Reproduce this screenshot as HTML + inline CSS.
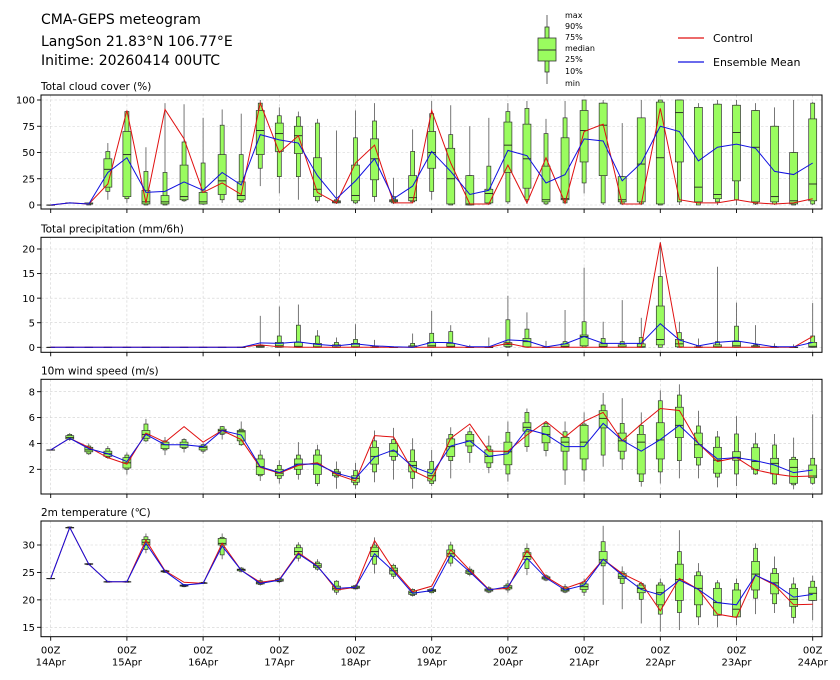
<!DOCTYPE html>
<html><head><meta charset="utf-8"><style>
html,body{margin:0;padding:0;background:#fff;}
svg{display:block;font-family:"DejaVu Sans","Liberation Sans",sans-serif;}
</style></head><body>
<svg id="chart" width="840" height="680" viewBox="0 0 840 680" xmlns="http://www.w3.org/2000/svg">
<text x="41" y="24" font-size="14">CMA-GEPS meteogram</text>
<text x="41" y="46" font-size="14">LangSon 21.83°N 106.77°E</text>
<text x="41" y="65" font-size="14">Initime: 20260414 00UTC</text>
<g>
<line x1="547" y1="15" x2="547" y2="84" stroke="#555" stroke-width="0.9"/>
<rect x="545" y="27" width="4" height="45" fill="#9afc5f" stroke="#333" stroke-width="0.8"/>
<rect x="538" y="38" width="18" height="23" fill="#9afc5f" stroke="#333" stroke-width="0.8"/>
<line x1="538" y1="50" x2="556" y2="50" stroke="#333" stroke-width="0.9"/>
<text x="565" y="18" font-size="8">max</text>
<text x="565" y="29" font-size="8">90%</text>
<text x="565" y="40" font-size="8">75%</text>
<text x="565" y="51" font-size="8">median</text>
<text x="565" y="62" font-size="8">25%</text>
<text x="565" y="74" font-size="8">10%</text>
<text x="565" y="86" font-size="8">min</text>
</g>
<g>
<line x1="678" y1="38" x2="704" y2="38" stroke="#e01010" stroke-width="1.2"/>
<text x="713" y="42" font-size="11">Control</text>
</g>
<g>
<line x1="678" y1="62" x2="704" y2="62" stroke="#1010e0" stroke-width="1.2"/>
<text x="713" y="66" font-size="11">Ensemble Mean</text>
</g>
</svg>
<script>
const cloudCtrl=[0,2,1,20,90,2,91,63,12,21,10,97,50,66,12,2,40,57,2,2,90,40,1,1,38,2,45,2,70,77,1,1,92,5,2,2,5,2,1,2,6];
const cloudMean=[0,2,1,31,45,12,13,22,14,31,19,67,62,59,28,6,23,44,6,18,51,32,10,14,52,47,21,29,63,61,23,40,75,70,42,55,58,54,32,29,40];
const cloudBox=[[0,0,0,0,0,0,0],[2,2,2,2,2,2,2],[0,0,1,1,2,2,2],[5,13,17,34,44,51,59],[2,6,8,48,70,89,90],[0,0,1,3,14,32,55],[0,0,1,3,9,31,97],[3,4,5,8,38,60,96],[0,1,1,3,12,40,83],[2,5,10,23,48,76,91],[2,3,5,9,22,48,87],[18,35,48,71,90,97,100],[11,27,51,68,78,85,93],[5,27,49,66,75,84,89],[2,4,8,15,45,78,82],[1,2,2,3,4,5,71],[1,2,4,9,38,64,90],[3,8,24,44,63,80,97],[1,2,3,4,5,8,26],[2,3,4,7,28,51,72],[5,13,35,50,70,87,99],[0,0,1,25,54,67,95],[0,0,0,1,28,28,75],[0,1,2,11,15,37,83],[1,3,31,57,79,89,97],[1,5,16,44,77,92,99],[0,1,3,5,37,68,82],[1,2,5,6,64,83,99],[11,21,41,71,90,100,100],[0,2,28,76,97,97,100],[0,1,3,5,27,27,78],[0,1,3,39,83,83,100],[0,0,1,45,98,100,100],[0,3,41,88,100,100,100],[0,0,3,17,93,93,97],[0,3,6,10,96,96,100],[0,5,23,69,95,95,100],[0,1,3,55,90,90,97],[0,1,3,8,75,75,93],[0,0,1,4,50,50,100],[0,1,4,20,82,97,98]];
const cloudTicks=[0,25,50,75,100];

const precipCtrl=[0,0,0,0,0,0,0,0,0,0,0,0.5,0.1,0,0,0,0,0,0,0,0,0,0,0,0.8,0,0,0,0,0,0,0,21.3,0,0,0,0,0,0,0,2.2];
const precipMean=[0,0,0,0,0,0,0,0,0,0,0,0.9,0.8,1.1,0.6,0.3,0.7,0.3,0.1,0,1.0,0.95,0.1,0.1,1.5,1.3,0.1,0.7,2.2,0.8,0.8,0.8,4.8,1.5,0.3,1.0,1.3,0.7,0.1,0.1,1.0];
const precipBox=[[0,0,0,0,0,0,0],[0,0,0,0,0,0,0],[0,0,0,0,0,0,0],[0,0,0,0,0,0,0],[0,0,0,0,0,0,0],[0,0,0,0,0,0,0],[0,0,0,0,0,0,0],[0,0,0,0,0,0,0],[0,0,0,0,0,0,0],[0,0,0,0,0,0,0],[0,0,0,0,0,0,0],[0,0,0,0.1,0.3,0.5,6.4],[0,0,0,0.3,1.0,2.3,8.3],[0,0,0,0.2,1.0,4.5,8.7],[0,0,0,0.1,0.8,2.3,3.5],[0,0,0,0,0.5,1.0,2.0],[0,0,0,0.1,0.8,1.6,4.7],[0,0,0,0,0.1,0.3,1.5],[0,0,0,0,0,0,0.2],[0,0,0,0.1,0.3,0.8,2.8],[0,0,0,0.3,1.0,2.85,7.4],[0,0,0,0.2,0.8,3.2,4.5],[0,0,0,0,0,0.1,0.5],[0,0,0,0,0,0.1,2.0],[0,0,0.2,0.6,0.95,5.6,10.5],[0,0,0.1,1.15,1.8,3.7,7.1],[0,0,0,0,0,0.1,1.3],[0,0,0,0.2,0.7,1.15,7.6],[0,0,0.3,2.2,2.5,5.2,16.2],[0,0,0,0.2,0.7,1.8,5.2],[0,0,0,0.1,0.5,1.15,9.6],[0,0,0,0.1,0.7,2.0,6.0],[0,0,0.5,1.6,8.4,14.4,21.4],[0,0,0.1,0.7,1.6,3.0,5.2],[0,0,0,0,0.1,0.3,1.8],[0,0,0,0.1,0.5,1.15,16.4],[0,0,0,0.3,1.15,4.3,9.1],[0,0,0,0.1,0.3,0.5,4.5],[0,0,0,0,0.1,0.2,0.8],[0,0,0,0,0,0.1,0.6],[0,0,0,0.2,1.0,2.3,9.0]];
const precipTicks=[0,5,10,15,20];

const windCtrl=[3.5,4.4,3.7,2.9,2.4,4.8,4.1,5.3,4.1,5.0,4.3,2.15,1.7,2.3,2.5,1.6,1.1,4.6,4.5,1.9,1.2,4.4,5.5,3.4,3.4,4.65,5.7,4.5,5.7,6.4,4.2,5.5,6.7,6.55,4.0,2.6,2.9,1.95,1.64,1.43,1.48];
const windMean=[3.5,4.4,3.6,3.2,2.6,4.7,3.9,3.9,3.75,5.0,4.65,2.2,1.75,2.4,2.4,1.7,1.3,2.95,3.5,2.2,1.65,3.8,4.2,3.0,3.2,5.1,4.7,3.75,3.75,5.55,4.25,3.4,4.3,5.4,4.0,2.8,2.9,2.67,2.33,1.74,1.95];
const windBox=[[3.5,3.5,3.5,3.5,3.5,3.5,3.5],[4.2,4.3,4.35,4.45,4.6,4.7,4.8],[3.1,3.2,3.35,3.5,3.7,3.8,4.0],[2.8,2.9,3.0,3.2,3.4,3.6,3.8],[1.6,2.0,2.1,2.5,2.9,3.1,3.3],[4.1,4.2,4.4,4.7,5.0,5.5,5.9],[3.1,3.5,3.6,3.9,4.1,4.2,4.5],[3.3,3.6,3.7,3.9,4.1,4.3,4.4],[3.2,3.4,3.5,3.7,3.8,3.9,4.0],[4.3,4.7,4.8,5.0,5.1,5.3,5.35],[3.8,3.9,4.2,4.9,5.0,5.1,5.7],[1.1,1.5,1.6,2.2,2.8,3.1,3.5],[0.9,1.3,1.5,1.7,2.0,2.3,2.7],[1.2,1.6,2.0,2.4,2.8,3.1,4.1],[0.7,0.9,1.6,2.4,3.1,3.5,3.9],[0.5,1.4,1.5,1.7,1.8,2.0,2.6],[0.5,0.8,1.0,1.3,1.5,1.9,2.5],[1.0,1.8,2.4,3.0,3.7,4.2,5.0],[1.2,2.7,3.0,3.4,4.0,4.3,5.2],[0.5,1.3,1.8,2.3,2.6,3.5,4.4],[0.7,0.9,1.1,1.5,2.0,2.6,3.5],[1.3,2.67,3.0,3.75,4.35,4.7,5.25],[2.5,3.3,3.8,4.2,4.7,4.9,5.25],[1.7,2.15,2.5,3.0,3.5,3.8,4.6],[1.05,1.64,2.35,3.35,4.1,4.86,5.7],[3.35,3.75,4.95,5.25,5.6,6.4,6.7],[3.0,3.45,4.05,4.7,5.3,5.55,5.7],[0.8,1.95,3.4,4.1,4.47,4.9,5.7],[1.05,1.95,2.8,4.1,5.4,5.5,6.4],[2.2,3.1,5.2,5.94,6.53,6.97,7.9],[1.95,2.8,3.4,4.2,4.8,5.55,7.5],[0.66,1.05,1.64,4.1,4.7,5.4,6.4],[0.9,1.8,2.8,4.27,5.6,7.3,8.1],[1.3,2.67,4.45,5.4,6.8,7.74,8.57],[1.3,2.33,2.9,3.9,4.8,5.35,6.53],[0.6,1.4,1.7,2.7,3.7,4.5,4.96],[0.7,1.64,2.7,2.93,3.36,4.73,6.1],[1.56,1.64,2.0,2.6,3.67,3.96,4.83],[0.8,0.87,1.64,2.46,2.85,3.88,4.73],[0.45,0.8,0.92,2.15,2.77,2.93,4.45],[0.8,0.92,1.35,1.48,2.33,2.85,6.25]];
const windTicks=[2,4,6,8];

const tempCtrl=[23.9,33.2,26.5,23.3,23.3,30.9,25.3,23.2,23.0,30.3,25.4,23.2,23.7,28.6,26.2,21.8,22.3,30.8,25.5,21.5,22.5,29.1,25.4,21.9,22.1,29.0,24.2,22.1,23.3,27.4,24.8,23.1,18.0,23.9,21.9,17.4,16.8,24.5,22.7,19.1,19.2];
const tempMean=[23.9,33.2,26.5,23.3,23.3,30.3,25.2,22.7,23.0,29.8,25.4,23.0,23.6,28.4,26.1,22.1,22.3,28.4,25.2,21.2,21.7,28.2,25.1,21.8,22.4,27.6,24.0,21.8,22.7,27.4,24.5,21.9,20.9,23.6,21.9,19.5,19.1,24.5,22.9,20.5,21.0];
const tempBox=[[23.9,23.9,23.9,23.9,23.9,23.9,23.9],[33.0,33.1,33.1,33.2,33.2,33.3,33.3],[26.4,26.4,26.5,26.5,26.6,26.6,26.7],[23.2,23.2,23.3,23.3,23.3,23.4,23.4],[23.2,23.2,23.3,23.3,23.3,23.4,23.4],[28.5,29.2,30.0,30.5,31.0,31.5,32.1],[24.9,25.0,25.1,25.2,25.3,25.4,25.5],[22.3,22.4,22.5,22.6,22.7,22.8,22.9],[22.9,23.0,23.0,23.1,23.1,23.2,23.2],[27.4,28.2,30.0,30.3,31.2,31.4,32.1],[25.0,25.2,25.3,25.5,25.6,25.8,26.0],[22.6,22.8,22.9,23.1,23.3,23.5,23.9],[23.0,23.3,23.4,23.6,23.8,23.9,24.1],[27.0,27.6,28.2,28.8,29.5,30.0,30.5],[25.3,25.6,25.9,26.2,26.6,26.9,27.4],[20.9,21.4,21.8,22.1,22.5,23.4,23.6],[21.9,22.0,22.1,22.3,22.5,22.6,22.8],[24.8,26.5,27.9,28.8,29.6,30.0,31.4],[23.8,24.3,24.7,25.3,25.8,26.3,26.6],[20.6,20.8,21.0,21.3,21.6,21.9,22.1],[21.2,21.3,21.5,21.7,21.9,22.0,22.2],[26.1,26.7,27.9,28.4,29.1,30.0,30.6],[24.3,24.6,24.8,25.1,25.4,25.6,26.1],[21.2,21.4,21.6,21.8,22.0,22.2,22.5],[21.3,21.8,22.0,22.3,22.6,22.9,23.6],[24.5,25.7,27.4,27.9,28.6,29.4,30.3],[23.4,23.6,23.8,24.0,24.2,24.4,24.7],[21.2,21.4,21.6,21.8,22.1,22.4,22.9],[20.7,21.4,21.9,22.4,22.9,23.3,23.9],[19.1,26.2,26.7,27.3,28.8,30.6,33.5],[18.3,23.0,23.9,24.2,24.8,25.1,26.1],[15.7,20.1,21.3,22.1,22.7,23.0,23.3],[14.2,17.4,19.1,21.3,22.7,23.1,23.9],[14.5,17.7,19.9,23.7,26.5,28.8,32.7],[15.4,16.9,19.1,22.1,24.4,25.1,26.7],[15.0,17.2,17.2,19.5,22.1,23.1,23.6],[15.4,16.9,16.9,18.3,21.8,23.0,23.9],[17.4,20.3,21.8,24.7,27.0,29.4,30.3],[17.6,19.3,21.1,23.1,24.8,25.7,27.9],[15.7,16.8,18.8,20.1,22.1,22.9,24.1],[16.3,19.9,19.9,21.2,22.3,23.4,24.4]];
const tempTicks=[15,20,25,30];

const dayLabels=["14Apr","15Apr","16Apr","17Apr","18Apr","19Apr","20Apr","21Apr","22Apr","23Apr","24Apr"];

const NS="http://www.w3.org/2000/svg";
const svg=document.getElementById('chart');
const X0=50.7, DX=19.05, XL=41, XR=822;
function sx(i){return X0+DX*i;}
function mk(tag,attrs,parent){const e=document.createElementNS(NS,tag);for(const k in attrs)e.setAttribute(k,attrs[k]);(parent||svg).appendChild(e);return e;}

const panels=[
 {key:'cloud',title:'Total cloud cover (%)',top:95,bottom:209,v0:0,y0:205,v1:100,y1:100,ticks:cloudTicks,ctrl:cloudCtrl,mean:cloudMean,box:cloudBox},
 {key:'precip',title:'Total precipitation (mm/6h)',top:237.3,bottom:352.3,v0:0,y0:347.3,v1:20,y1:249,ticks:precipTicks,ctrl:precipCtrl,mean:precipMean,box:precipBox},
 {key:'wind',title:'10m wind speed (m/s)',top:379.3,bottom:494,v0:2,y0:469.3,v1:8,y1:391.7,ticks:windTicks,ctrl:windCtrl,mean:windMean,box:windBox},
 {key:'temp',title:'2m temperature (\u2103)',top:521,bottom:636.7,v0:15,y0:627.3,v1:30,y1:545,ticks:tempTicks,ctrl:tempCtrl,mean:tempMean,box:tempBox}
];

panels.forEach((p,pi)=>{
 const sy=v=>p.y0+(v-p.v0)*(p.y1-p.y0)/(p.v1-p.v0);
 const g=mk('g',{});
 
 
 const t=mk('text',{x:41,y:p.top-5,'font-size':'10.5'},g);
 t.textContent=p.title;
 
 
 // grid
 for(let d=0;d<=10;d++){
  const x=X0+DX*4*d;
  const gl=mk('line',{x1:x,y1:p.top,x2:x,y2:p.bottom,stroke:'#d0d0d0','stroke-width':0.6,'stroke-dasharray':'2.5,2'},g);
  
  
  const tk=mk('line',{x1:x,y1:p.bottom,x2:x,y2:p.bottom+4,stroke:'#000','stroke-width':0.9},g);
  
  
 }
 p.ticks.forEach(v=>{
  const y=sy(v);
  const gl=mk('line',{x1:XL,y1:y,x2:XR,y2:y,stroke:'#d0d0d0','stroke-width':0.6,'stroke-dasharray':'2.5,2'},g);
  
  
  const tk=mk('line',{x1:XL-4,y1:y,x2:XL,y2:y,stroke:'#000','stroke-width':0.9},g);
  
  
  const tl=mk('text',{x:XL-6,y:y+3.6,'font-size':'10','text-anchor':'end'},g);
  tl.textContent=String(v);
  
  
 });
 // boxes
 p.box.forEach((b,i)=>{
  const x=sx(i);
  const bg=mk('g',{},g);
  
  
  mk('line',{x1:x,y1:sy(b[0]),x2:x,y2:sy(b[6]),stroke:'#555','stroke-width':0.8},bg);
  mk('rect',{x:x-2,y:sy(b[5]),width:4,height:Math.max(0.3,sy(b[1])-sy(b[5])),fill:'#9afc5f',stroke:'#333','stroke-width':0.7},bg);
  mk('rect',{x:x-4,y:sy(b[4]),width:8,height:Math.max(0.3,sy(b[2])-sy(b[4])),fill:'#9afc5f',stroke:'#333','stroke-width':0.7},bg);
  mk('line',{x1:x-4,y1:sy(b[3]),x2:x+4,y2:sy(b[3]),stroke:'#222','stroke-width':0.9},bg);
 });
 const lineOf=(arr)=>arr.map((v,i)=>sx(i).toFixed(2)+','+sy(v).toFixed(2)).join(' ');
 const cl=mk('polyline',{points:lineOf(p.ctrl),fill:'none',stroke:'#e01010','stroke-width':1},g);
 
 
 const ml=mk('polyline',{points:lineOf(p.mean),fill:'none',stroke:'#1010e0','stroke-width':1},g);
 
 
 const fr=mk('rect',{x:XL,y:p.top,width:XR-XL,height:p.bottom-p.top,fill:'none',stroke:'#000','stroke-width':1},g);
 
 
 if(pi===3){
  dayLabels.forEach((lab,d)=>{
   const x=X0+DX*4*d;
   const t1=mk('text',{x:x,y:p.bottom+17,'font-size':'10','text-anchor':'middle'},g);
   t1.textContent='00Z';
   
   
   const t2=mk('text',{x:x,y:p.bottom+29,'font-size':'10','text-anchor':'middle'},g);
   t2.textContent=lab;
   
   
  });
 }
});
</script>
</body></html>
